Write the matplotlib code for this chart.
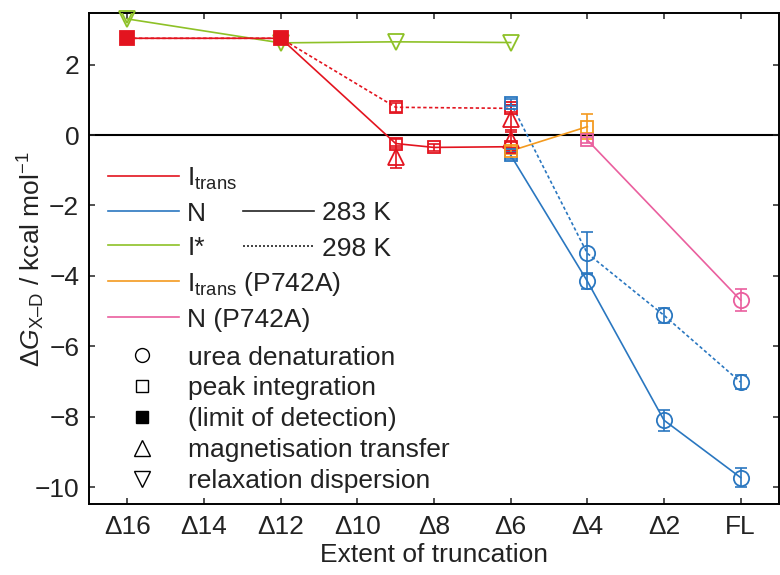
import matplotlib
matplotlib.use("Agg")
import matplotlib.pyplot as plt
from matplotlib.lines import Line2D

plt.rcParams['font.family'] = ['Liberation Sans', 'DejaVu Sans']
plt.rcParams['mathtext.fontset'] = 'custom'
plt.rcParams['mathtext.rm'] = 'Liberation Sans'
plt.rcParams['mathtext.it'] = 'Liberation Sans:style=italic'
plt.rcParams['axes.unicode_minus'] = True

# ---- data (x = number of truncated residues, FL = 0) ----
tick_pos = [16, 14, 12, 10, 8, 6, 4, 2, 0]
tick_labels = ['Δ16', 'Δ14', 'Δ12', 'Δ10', 'Δ8', 'Δ6', 'Δ4', 'Δ2', 'FL']

# I_trans, 283 K
itrans283_x = [16, 12, 9, 8, 6]
itrans283_y = [2.75, 2.75, -0.24, -0.35, -0.33]
itrans283_err = [0.0, 0.0, 0.12, 0.10, 0.12]
# I_trans, 298 K
itrans298_x = [16, 12, 9, 6]
itrans298_y = [2.75, 2.75, 0.79, 0.76]
itrans298_err = [0.0, 0.0, 0.12, 0.10]
# I_trans, magnetisation transfer
mt283_x = [9, 6]
mt283_y = [-0.62, -0.15]
mt283_err = [0.32, 0.30]
mt298_x = [6]
mt298_y = [0.47]
mt298_err = [0.38]

# N, 283 K
n283_x = [6, 4, 2, 0]
n283_y = [-0.57, -4.15, -8.10, -9.73]
n283_err = [0.10, 0.22, 0.30, 0.27]
# N, 298 K
n298_x = [6, 4, 2, 0]
n298_y = [0.92, -3.36, -5.12, -7.02]
n298_err = [0.10, 0.60, 0.22, 0.20]

# I*, 283 K / 298 K (relaxation dispersion)
istar283_x = [16, 12, 9, 6]
istar283_y = [3.30, 2.62, 2.65, 2.63]
istar298_x = [16]
istar298_y = [3.42]

# I_trans (P742A), 283 K
p_itrans_x = [6, 4]
p_itrans_y = [-0.45, 0.24]
p_itrans_err = [0.10, 0.36]
# N (P742A), 283 K
p_n_x = [4, 0]
p_n_y = [-0.14, -4.69]
p_n_err = [0.08, 0.32]

RED = '#e3141f'
BLUE = '#2a77c0'
GREEN = '#8ec127'
ORANGE = '#f39a1f'
PINK = '#ea5f9e'
INK = '#222222'

LW = 1.2
MEW = 1.3
MS_SQ = 8.6
MS_CI = 11
MS_TRI = 12
CAP = 4.6
FS = 19

fig = plt.figure(figsize=(7.8, 5.75), dpi=100)
ax = fig.add_axes([89 / 780, 1 - 504 / 575, 690 / 780, (504 - 13.3) / 575])

ax.axhline(0, color='black', lw=1.5, zorder=1)


def err(x, y, e, color, marker, ms, filled=False):
    ax.errorbar(x, y, yerr=e, fmt='none', ecolor=color, elinewidth=LW,
                capsize=CAP, capthick=LW, zorder=3)
    ax.plot(x, y, ls='none', marker=marker, ms=ms, mec=color, mew=MEW,
            mfc=color if filled else 'none', zorder=4)


# I* (relaxation dispersion)
ax.plot(istar283_x, istar283_y, color=GREEN, lw=LW, zorder=2)
ax.plot(istar283_x, istar283_y, ls='none', marker='v', ms=MS_TRI,
        mec=GREEN, mfc='none', mew=MEW, zorder=4, clip_on=False)
ax.plot(istar298_x, istar298_y, ls='none', marker='v', ms=MS_TRI,
        mec=GREEN, mfc='none', mew=MEW, zorder=4)

# I_trans lines
ax.plot(itrans283_x, itrans283_y, color=RED, lw=LW, zorder=2)
ax.plot(itrans298_x, itrans298_y, color=RED, lw=LW, ls=(0, (2, 1.5)), zorder=2)
# limit of detection (filled) and peak integration (open)
ax.plot(itrans283_x[:2], itrans283_y[:2], ls='none', marker='s', ms=MS_SQ + 1,
        mec=RED, mfc=RED, mew=MEW, zorder=4)
err(itrans283_x[2:], itrans283_y[2:], itrans283_err[2:], RED, 's', MS_SQ)
err(itrans298_x[2:], itrans298_y[2:], itrans298_err[2:], RED, 's', MS_SQ)
# magnetisation transfer
err(mt283_x, mt283_y, mt283_err, RED, '^', MS_TRI)
err(mt298_x, mt298_y, mt298_err, RED, '^', MS_TRI)

# N
ax.plot(n283_x, n283_y, color=BLUE, lw=LW, zorder=2)
ax.plot(n298_x, n298_y, color=BLUE, lw=LW, ls=(0, (2, 1.5)), zorder=2)
err(n283_x[:1], n283_y[:1], n283_err[:1], BLUE, 's', MS_SQ)
err(n298_x[:1], n298_y[:1], n298_err[:1], BLUE, 's', MS_SQ)
err(n283_x[1:], n283_y[1:], n283_err[1:], BLUE, 'o', MS_CI)
err(n298_x[1:], n298_y[1:], n298_err[1:], BLUE, 'o', MS_CI)

# P742A
ax.plot(p_itrans_x, p_itrans_y, color=ORANGE, lw=LW, zorder=2)
err(p_itrans_x, p_itrans_y, p_itrans_err, ORANGE, 's', MS_SQ)
ax.plot(p_n_x, p_n_y, color=PINK, lw=LW, zorder=2)
err(p_n_x[:1], p_n_y[:1], p_n_err[:1], PINK, 's', MS_SQ)
err(p_n_x[1:], p_n_y[1:], p_n_err[1:], PINK, 'o', MS_CI)

# axes
ax.set_xlim(17, -1)
ax.set_ylim(-10.48, 3.46)
ax.set_xticks(tick_pos)
ax.set_xticklabels(tick_labels)
ax.set_yticks([2, 0, -2, -4, -6, -8, -10])
ax.tick_params(direction='in', length=4.5, width=1.1, top=True, right=True,
               labelsize=FS, pad=7, colors=INK)
ax.tick_params(axis='x', pad=8)
for s in ax.spines.values():
    s.set_linewidth(1.4)
ax.set_xlabel('Extent of truncation', fontsize=FS, color=INK, labelpad=3)
ax.set_ylabel('Δ$\\mathit{G}_{\\mathrm{X–D}}$ / kcal mol$^{-1}$', fontsize=FS,
              color=INK)
ax.yaxis.set_label_coords(-0.061, 0.5)

# legends
col_labels = ['I$_{\\mathrm{trans}}$', 'N', 'I*', 'I$_{\\mathrm{trans}}$ (P742A)', 'N (P742A)']
col_handles = [Line2D([], [], color=c, lw=LW) for c in [RED, BLUE, GREEN, ORANGE, PINK]]
leg1 = ax.legend(col_handles, col_labels, loc='upper left',
                 bbox_to_anchor=(0.0275, 0.69), frameon=False, fontsize=FS,
                 handlelength=2.7, handletextpad=0.3, labelspacing=0.38,
                 borderpad=0, borderaxespad=0)
ax.add_artist(leg1)

temp_handles = [Line2D([], [], color=INK, lw=LW),
                Line2D([], [], color=INK, lw=LW, ls=(0, (1.2, 1.2)))]
leg2 = ax.legend(temp_handles, ['283 K', '298 K'], loc='upper left',
                 bbox_to_anchor=(0.223, 0.618), frameon=False, fontsize=FS,
                 handlelength=2.7, handletextpad=0.3, labelspacing=0.45,
                 borderpad=0, borderaxespad=0)
ax.add_artist(leg2)

mk_handles = [
    Line2D([], [], ls='none', marker='o', ms=10, mfc='none', mec='black', mew=1.0),
    Line2D([], [], ls='none', marker='s', ms=8, mfc='none', mec='black', mew=1.0),
    Line2D([], [], ls='none', marker='s', ms=8, mfc='black', mec='black', mew=1.0),
    Line2D([], [], ls='none', marker='^', ms=11, mfc='none', mec='black', mew=1.0),
    Line2D([], [], ls='none', marker='v', ms=11, mfc='none', mec='black', mew=1.0),
]
mk_labels = ['urea denaturation', 'peak integration', '(limit of detection)',
             'magnetisation transfer', 'relaxation dispersion']
leg3 = ax.legend(mk_handles, mk_labels, loc='upper left', bbox_to_anchor=(0.0575, 0.323),
                 frameon=False, fontsize=FS, handlelength=1.0, handletextpad=1.25,
                 labelspacing=0.26, borderpad=0, borderaxespad=0)

for leg in (leg1, leg2, leg3):
    for t in leg.get_texts():
        t.set_color(INK)

fig.savefig('out.png', dpi=100)
